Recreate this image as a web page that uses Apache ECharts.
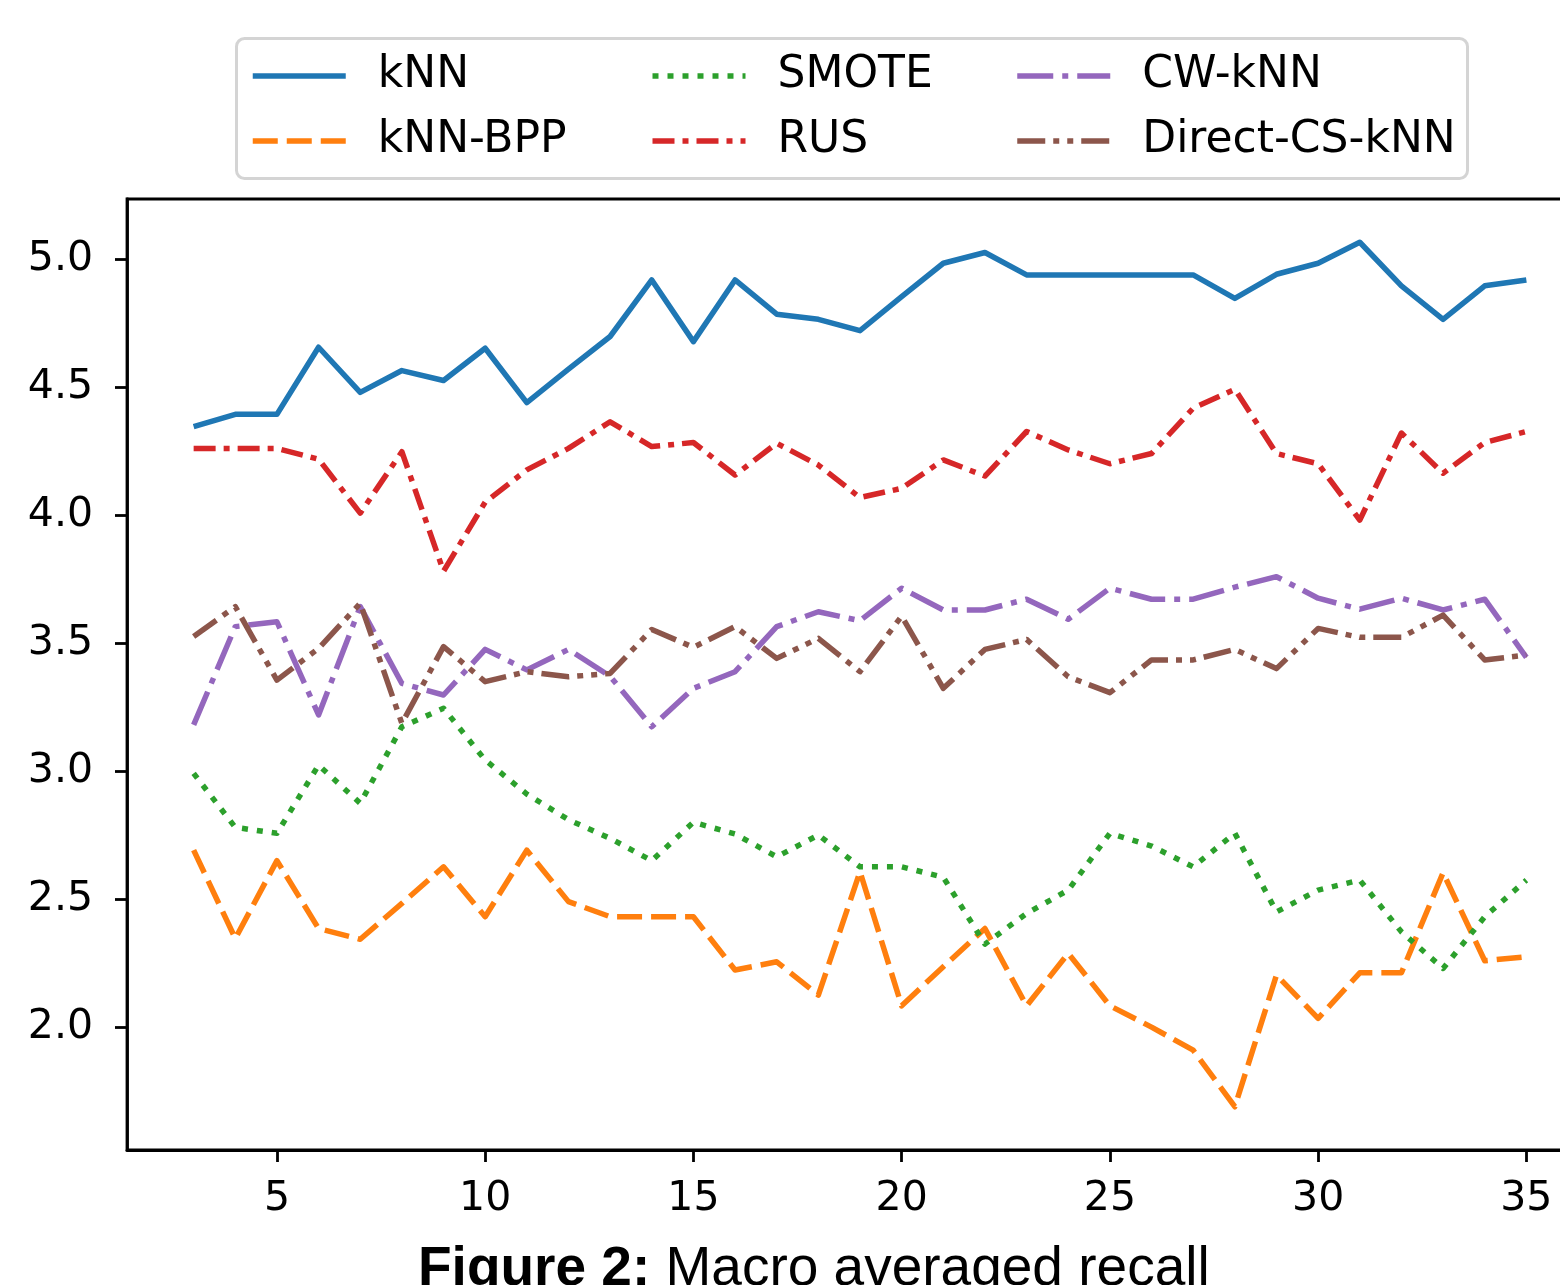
<!DOCTYPE html>
<html>
<head>
<meta charset="utf-8">
<script src="https://cdn.jsdelivr.net/npm/echarts@6/dist/echarts.min.js"></script>
<style>
html,body{margin:0;padding:0;background:#fff;}
#c{width:1560px;height:1285px;}
</style>
</head>
<body>
<div id="c"></div>
<script>
const kValues = [3,4,5,6,7,8,9,10,11,12,13,14,15,16,17,18,19,20,21,22,23,24,25,26,27,28,29,30,31,32,33,34,35];
const xTicks = [5,10,15,20,25,30,35];
const yTicks = [2.0,2.5,3.0,3.5,4.0,4.5,5.0];

const kNN = [4.345,4.393,4.393,4.655,4.479,4.564,4.525,4.651,4.439,4.57,4.697,4.918,4.677,4.918,4.784,4.764,4.720,4.853,4.983,5.025,4.9375,4.9375,4.9375,4.9375,4.9375,4.846,4.94,4.983,5.065,4.895,4.764,4.895,4.918];
const kNN_BPP = [2.691,2.346,2.65,2.385,2.343,2.483,2.626,2.431,2.691,2.49,2.431,2.431,2.431,2.223,2.255,2.125,2.607,2.083,2.236,2.385,2.083,2.288,2.083,2.0,1.91,1.689,2.203,2.034,2.212,2.212,2.603,2.259,2.275];
const SMOTE = [2.991,2.78,2.757,3.023,2.874,3.173,3.245,3.043,2.91,2.81,2.737,2.65,2.80,2.754,2.665,2.75,2.626,2.626,2.585,2.324,2.444,2.535,2.757,2.707,2.626,2.757,2.45,2.535,2.574,2.372,2.229,2.431,2.574];
const RUS = [4.26,4.26,4.26,4.218,4.007,4.247,3.78,4.05,4.176,4.26,4.364,4.267,4.283,4.156,4.28,4.195,4.068,4.104,4.215,4.152,4.326,4.254,4.20,4.24,4.417,4.491,4.24,4.20,3.98,4.32,4.163,4.283,4.326];
const CW_kNN = [3.18,3.564,3.583,3.219,3.642,3.342,3.297,3.475,3.395,3.475,3.37,3.173,3.323,3.388,3.564,3.622,3.587,3.714,3.629,3.629,3.671,3.593,3.714,3.671,3.671,3.718,3.759,3.675,3.632,3.675,3.629,3.671,3.444];
const Direct_CS_kNN = [3.525,3.642,3.355,3.479,3.655,3.186,3.486,3.349,3.388,3.368,3.381,3.553,3.483,3.564,3.44,3.518,3.388,3.605,3.323,3.475,3.514,3.368,3.306,3.434,3.434,3.475,3.40,3.557,3.522,3.522,3.609,3.434,3.453];

const seriesNames = ['kNN','kNN-BPP','SMOTE','RUS','CW-kNN','Direct-CS-kNN'];
const seriesValues = [kNN, kNN_BPP, SMOTE, RUS, CW_kNN, Direct_CS_kNN];
const colors = ['#1f77b4','#ff7f0e','#2ca02c','#d62728','#9467bd','#8c564b'];
const dashes = ['solid',[25,9],[6,9],[22,8,6,8],[36,9,6,9],[28,8,6,8,6,8]];
const legendRow1 = ['kNN','SMOTE','CW-kNN'];
const legendRow2 = ['kNN-BPP','RUS','Direct-CS-kNN'];
const colOf = {'kNN':1,'kNN-BPP':1,'SMOTE':2,'RUS':2,'CW-kNN':3,'Direct-CS-kNN':3};

const FONT = 'DejaVu Sans';
const chart = echarts.init(document.getElementById('c'), null, {renderer:'canvas'});

const LF = 44;
const legendText = {
  fontSize: LF, fontFamily: FONT, color: '#000', lineHeight: 50,
  rich: {
    g: {width: 27, fontSize: LF, fontFamily: FONT},
    c1: {width: 272, fontSize: LF, fontFamily: FONT, color:'#000'},
    c2: {width: 237, fontSize: LF, fontFamily: FONT, color:'#000'},
    c3: {width: 330, fontSize: LF, fontFamily: FONT, color:'#000'}
  }
};
function mkLegend(data, top){
  return {
    data: data, left: 250, top: top, orient: 'horizontal', padding: 0,
    itemGap: 0, itemWidth: 93, itemHeight: 14,
    selectedMode: false,
    itemStyle: {opacity: 0},
    lineStyle: {width: 5.5},
    formatter: n => '{g| }{c' + colOf[n] + '|' + n + '}',
    textStyle: legendText
  };
}

const option = {
  animation: false,
  backgroundColor: '#fff',
  title: {
    text: '{b|Figure 2:}{n| Macro averaged recall}',
    left: 413, top: 1237,
    textStyle: {
      fontWeight: 'normal',
      rich: {
        b: {fontWeight: 'bold', fontSize: 55, fontFamily: 'Liberation Sans', color: '#000', lineHeight: 55},
        n: {fontWeight: 'normal', fontSize: 55, fontFamily: 'Liberation Sans', color: '#000', lineHeight: 55}
      }
    }
  },
  legend: [mkLegend(legendRow1, 51), mkLegend(legendRow2, 116)],
  graphic: [{
    type: 'rect', left: 235, top: 37, z: -1,
    shape: {width: 1231, height: 140, r: 8},
    style: {fill: '#fff', stroke: '#d4d4d4', lineWidth: 3}
  }],
  grid: {left: 127, top: 199, width: 1466, height: 951, show: true, borderColor: '#000', borderWidth: 2.8, outerBoundsMode: 'none'},
  xAxis: {
    type: 'value', min: 1.4, max: 36.6,
    splitLine: {show: false},
    axisLine: {show: true, lineStyle: {color: '#000', width: 2.8}},
    axisTick: {show: true, length: 12, lineStyle: {color: '#000', width: 2.8}, customValues: xTicks},
    axisLabel: {customValues: xTicks, fontSize: 41, fontFamily: FONT, color: '#000', margin: 29}
  },
  yAxis: {
    type: 'value', min: 1.52, max: 5.234,
    splitLine: {show: false},
    axisLine: {show: true, lineStyle: {color: '#000', width: 2.8}},
    axisTick: {show: true, length: 12, lineStyle: {color: '#000', width: 2.8}, customValues: yTicks},
    axisLabel: {customValues: yTicks, fontSize: 41, fontFamily: FONT, color: '#000', margin: 34, formatter: v => Number(v).toFixed(1)}
  },
  series: seriesNames.map((name, i) => ({
    name: name, type: 'line', symbol: 'none', showSymbol: false,
    data: kValues.map((k, j) => [k, seriesValues[i][j]]),
    color: colors[i],
    lineStyle: {color: colors[i], width: 5.5, type: dashes[i], cap: 'butt', join: 'round'},
    emphasis: {disabled: true}
  }))
};
chart.setOption(option);
</script>
</body>
</html>
